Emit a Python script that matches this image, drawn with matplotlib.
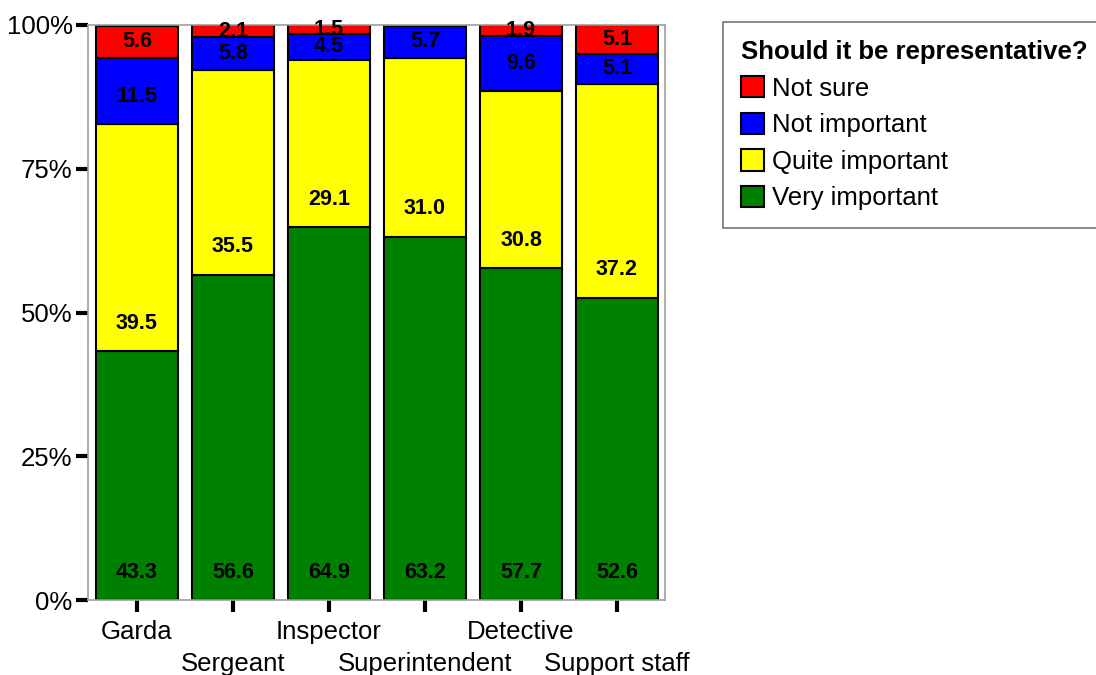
import numpy as np
import matplotlib
matplotlib.use("Agg")
import matplotlib.pyplot as plt
from matplotlib.patches import Patch

plt.rcParams['font.family'] = ['Liberation Sans', 'DejaVu Sans']

ranks = ['Garda', 'Sergeant', 'Inspector', 'Superintendent', 'Detective', 'Support staff']
very_important = [43.3, 56.6, 64.9, 63.2, 57.7, 52.6]
quite_important = [39.5, 35.5, 29.1, 31.0, 30.8, 37.2]
not_important = [11.5, 5.8, 4.5, 5.7, 9.6, 5.1]
not_sure = [5.6, 2.1, 1.5, 0.0, 1.9, 5.1]

series = [
    ('Very important', very_important, '#008000'),
    ('Quite important', quite_important, '#ffff00'),
    ('Not important', not_important, '#0000ff'),
    ('Not sure', not_sure, '#ff0000'),
]

fig = plt.figure(figsize=(10.96, 6.75), dpi=100)
ax = fig.add_axes([88/1096, 1-600/675, (665-88)/1096, (600-25)/675])

x = np.arange(len(ranks))
base = np.zeros(len(ranks))
for name, vals, col in series:
    vals = np.array(vals)
    ax.bar(x, vals, bottom=base, width=0.845, color=col, edgecolor='black',
           linewidth=1.5, label=name, zorder=2)
    for xi, b, v in zip(x, base, vals):
        if v <= 0:
            continue
        # labels sit near the bottom of each segment, like the original
        ypos = b + min(v / 2, 4.8)
        ax.text(xi, ypos, f'{v:.1f}', ha='center', va='center',
                fontsize=15.5, fontweight='bold', color='black', zorder=3)
    base = base + vals

ax.set_xlim(-0.51, 5.5)
ax.set_ylim(0, 100)
ax.set_yticks([0, 25, 50, 75, 100])
ax.set_yticklabels(['0%', '25%', '50%', '75%', '100%'], fontsize=18.5)
ax.set_xticks(x)
ax.set_xticklabels(ranks, fontsize=18.5)
ax.tick_params(axis='y', length=9, width=3, color='black', pad=2)
ax.tick_params(axis='x', length=8.5, width=3, color='black', pad=6)
for i, t in enumerate(ax.xaxis.get_major_ticks()):
    if i % 2 == 1:
        t.set_pad(29)

for s in ax.spines.values():
    s.set_color('#a0a0a0')
    s.set_linewidth(1.2)

handles = [Patch(facecolor=c, edgecolor='black', linewidth=1.5, label=n)
           for n, _, c in series[::-1]]
leg = fig.legend(handles=handles, title='Should it be representative?',
                 loc='upper left', bbox_to_anchor=(723/1096, 1-22/675),
                 fontsize=18.5, title_fontproperties={'weight': 'bold', 'size': 18.5},
                 frameon=True, fancybox=False, edgecolor='#555555',
                 handlelength=0.9, handleheight=0.9, handletextpad=0.3,
                 labelspacing=0.47, borderpad=0.7, borderaxespad=0,
                 alignment='left')
leg.get_frame().set_linewidth(1.2)

fig.savefig('out.png', dpi=100)
